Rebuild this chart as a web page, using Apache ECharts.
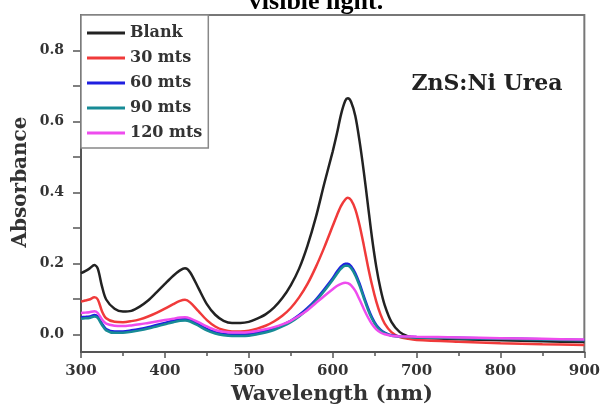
<!DOCTYPE html>
<html><head><meta charset="utf-8">
<script src="https://cdn.jsdelivr.net/npm/echarts@6/dist/echarts.min.js"></script>
<style>html,body{margin:0;padding:0;background:#fff}#c{width:603px;height:409px}</style>
</head><body><div id="c"></div>
<script>
const wavelengths = [300,305,310,316,320,325,330,340,350,360,370,380,390,400,410,418,424,430,440,450,460,470,480,490,500,510,520,530,540,550,560,570,580,590,600,605,610,615,618,622,627,632,637,642,647,652,657,662,670,680,690,700,750,800,850,900];
const blank = [0.172,0.178,0.185,0.195,0.185,0.135,0.098,0.072,0.064,0.066,0.078,0.095,0.118,0.142,0.165,0.180,0.186,0.175,0.130,0.085,0.055,0.038,0.032,0.032,0.035,0.044,0.056,0.075,0.102,0.138,0.185,0.250,0.330,0.425,0.515,0.565,0.620,0.658,0.665,0.655,0.615,0.545,0.460,0.365,0.270,0.190,0.128,0.082,0.035,0.006,-0.006,-0.010,-0.014,-0.017,-0.020,-0.022];
const mts30 = [0.092,0.095,0.098,0.104,0.098,0.065,0.045,0.035,0.034,0.037,0.042,0.050,0.060,0.072,0.085,0.094,0.097,0.090,0.065,0.040,0.022,0.012,0.008,0.008,0.010,0.016,0.024,0.036,0.052,0.074,0.104,0.142,0.190,0.245,0.305,0.335,0.362,0.380,0.385,0.378,0.352,0.308,0.252,0.192,0.138,0.092,0.056,0.030,0.006,-0.008,-0.013,-0.016,-0.021,-0.025,-0.028,-0.030];
const mts60 = [0.048,0.049,0.050,0.054,0.050,0.030,0.015,0.008,0.008,0.011,0.015,0.020,0.026,0.032,0.038,0.042,0.043,0.040,0.028,0.015,0.006,0.001,-0.001,-0.001,0.000,0.004,0.009,0.016,0.026,0.038,0.054,0.074,0.098,0.127,0.158,0.176,0.191,0.199,0.199,0.192,0.172,0.143,0.108,0.075,0.047,0.026,0.013,0.005,-0.003,-0.006,-0.007,-0.008,-0.010,-0.012,-0.014,-0.016];
const mts90 = [0.044,0.045,0.046,0.050,0.046,0.026,0.011,0.004,0.004,0.007,0.011,0.016,0.022,0.028,0.034,0.038,0.039,0.036,0.024,0.011,0.002,-0.003,-0.005,-0.005,-0.004,0.000,0.005,0.012,0.022,0.034,0.050,0.070,0.094,0.122,0.153,0.170,0.185,0.193,0.193,0.186,0.166,0.137,0.103,0.070,0.043,0.023,0.011,0.003,-0.004,-0.007,-0.008,-0.009,-0.011,-0.013,-0.015,-0.017];
const mts120 = [0.060,0.061,0.062,0.065,0.060,0.042,0.030,0.024,0.023,0.025,0.028,0.032,0.036,0.040,0.044,0.047,0.048,0.045,0.034,0.022,0.012,0.007,0.005,0.005,0.006,0.009,0.014,0.020,0.028,0.038,0.052,0.068,0.088,0.108,0.127,0.136,0.142,0.145,0.144,0.138,0.122,0.098,0.072,0.048,0.028,0.014,0.005,0.000,-0.004,-0.006,-0.006,-0.007,-0.009,-0.011,-0.013,-0.015];
const seriesNames = ['Blank','30 mts','60 mts','90 mts','120 mts'];
const seriesColors = ['#222222','#f03a3a','#1f1fe0','#178b96','#ee4cee'];
const xTicks = [300,400,500,600,700,800,900];
const yLabels = [0,0.2,0.4,0.6,0.8];
const yTicks = [0,0.1,0.2,0.3,0.4,0.5,0.6,0.7,0.8];

const F = 'DejaVu Serif';
const allData = [blank, mts30, mts60, mts90, mts120];
const chart = echarts.init(document.getElementById('c'), null, {renderer:'canvas'});
chart.setOption({
  animation:false,
  backgroundColor:'#fff',
  grid:{left:81,right:17,top:15,bottom:57,show:true,borderColor:'#777',borderWidth:2,backgroundColor:'transparent'},
  xAxis:{type:'value',min:300,max:900,interval:100,
    axisLine:{show:true,onZero:false,lineStyle:{color:'#555',width:2}},
    axisTick:{show:true,inside:false,length:6,lineStyle:{color:'#555',width:1.5}},
    minorTick:{show:true,splitNumber:2,length:4,lineStyle:{color:'#555',width:1.5}},
    splitLine:{show:false},
    axisLabel:{color:'#333',fontFamily:F,fontWeight:'bold',fontSize:15,margin:12,
      customValues:xTicks}
  },
  yAxis:{type:'value',min:-0.05,max:0.9,
    axisLine:{show:true,onZero:false,lineStyle:{color:'#555',width:2}},
    axisTick:{show:true,inside:false,length:8,customValues:yTicks,lineStyle:{color:'#555',width:1.5}},
    splitLine:{show:false},
    axisLabel:{color:'#333',fontFamily:F,fontWeight:'bold',fontSize:14,margin:17,
      customValues:yLabels, formatter:v=>v.toFixed(1)}
  },
  legend:{orient:'vertical',left:81,top:15,itemWidth:38,itemHeight:3,itemGap:9,icon:'rect',
    padding:[10,6,7,6],borderColor:'#888',borderWidth:1.5,backgroundColor:'#fff',
    textStyle:{fontFamily:F,fontWeight:'bold',fontSize:16,color:'#333',lineHeight:16},
    data:seriesNames},
  graphic:[
    {type:'text',x:316,y:15,style:{text:'visible light.',font:'bold 26px "Liberation Serif"',fill:'#000',textAlign:'center',textVerticalAlign:'bottom'}},
    {type:'text',x:487,y:84,style:{text:'ZnS:Ni Urea',font:'bold 22px "DejaVu Serif"',fill:'#222',textAlign:'center',textVerticalAlign:'middle'}},
    {type:'text',x:332,y:395,style:{text:'Wavelength (nm)',font:'bold 21px "DejaVu Serif"',fill:'#333',textAlign:'center',textVerticalAlign:'middle'}},
    {type:'text',x:21,y:182,rotation:Math.PI/2,style:{text:'Absorbance',font:'bold 20px "DejaVu Serif"',fill:'#333',textAlign:'center',textVerticalAlign:'middle'}}
  ],
  series: seriesNames.map((n,i)=>({
    name:n,type:'line',symbol:'none',smooth:0.3,
    color:seriesColors[i],
    lineStyle:{width:2.5,color:seriesColors[i]},
    data: wavelengths.map((w,k)=>[w, allData[i][k]])
  }))
});
</script></body></html>
